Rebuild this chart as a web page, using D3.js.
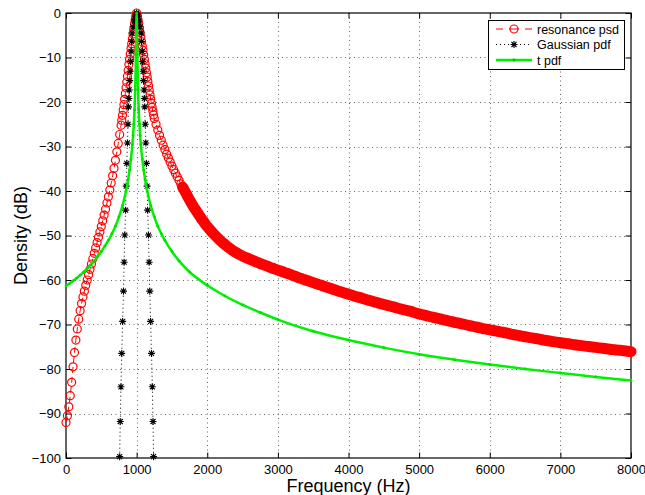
<!DOCTYPE html>
<html>
<head>
<meta charset="utf-8">
<script src="https://d3js.org/d3.v7.min.js"></script>
<style>
  body { margin: 0; background: #fff; }
  text { font-family: "Liberation Sans", Arial, Helvetica, sans-serif; }
</style>
</head>
<body>
<svg id="chart" width="645" height="495"></svg>
<script>
// ---- data ----
var xTicks = [0, 1000, 2000, 3000, 4000, 5000, 6000, 7000, 8000];
var yTicks = [-100, -90, -80, -70, -60, -50, -40, -30, -20, -10, 0];

// resonance psd (dB), sampled on a frequency grid, one array per grid step
var redLowDb = [-92, -90.5, -88.5, -86, -83, -79.5, -76.3, -73.5, -71, -68.8,
  -66.9, -65.3, -63.8, -62.5, -61.2, -60, -58.8, -57.6, -56.4, -55.2,
  -54, -52.8, -51.6, -50.4, -49.2, -48, -46.7, -45.4, -44.1, -42.7,
  -41.3, -39.8, -38.2, -36.6, -34.9, -33.1, -31.2, -29.3, -27.3, -25.2];           // 0..780 Hz, 20 Hz
var redPeakDb = [-24.1, -23, -21.8, -20.6, -19.4, -18.1, -16.8, -15.5, -14.2, -12.9,
  -11.6, -10.4, -9.2, -8, -6.9, -5.8, -4.7, -3.6, -2.5, -1.5, -0.6, 0,
  -0.6, -1.5, -2.4, -3.4, -4.4, -5.4, -6.4, -7.4, -8.4, -9.4, -10.4, -11.4,
  -12.4, -13.4, -14.4, -15.4, -16.4, -17.4, -18.4, -19.4, -20.3, -21.2,
  -22.1, -22.9, -23.7];                                                              // 790..1250 Hz, 10 Hz
var redMidDb = [-25, -26.3, -27.5, -28.6, -29.7, -30.7, -31.7, -32.6, -33.5, -34.4,
  -35.2, -36, -36.8, -37.6, -38.4, -39.1, -39.8, -40.5, -41.3, -42,
  -42.7, -43.4, -44, -44.6, -45.2, -45.8, -46.4, -46.9, -47.5, -48,
  -48.47, -48.92, -49.36, -49.78, -50.19, -50.59, -50.97, -51.34, -51.69, -52.03,
  -52.35, -52.66, -52.96, -53.24, -53.51, -53.76, -54, -54.22, -54.43, -54.63];     // 1275..2500 Hz, 25 Hz
var redTailDb = [-54.98, -55.32, -55.65, -55.98, -56.3, -56.6, -56.9, -57.2, -57.5, -57.78,
  -58.05, -58.33, -58.6, -58.9, -59.2, -59.5, -59.8, -60.05, -60.3, -60.6,
  -60.85, -61.1, -61.4, -61.65, -61.9, -62.2, -62.45, -62.7, -62.95, -63.2,
  -63.45, -63.7, -63.9, -64.15, -64.4, -64.6, -64.85, -65.05, -65.3, -65.5,
  -65.7, -65.9, -66.1, -66.35, -66.55, -66.75, -66.95, -67.15, -67.4, -67.6,
  -67.8, -68, -68.2, -68.4, -68.55, -68.75, -68.95, -69.15, -69.3, -69.5,
  -69.65, -69.85, -70, -70.2, -70.35, -70.55, -70.7, -70.9, -71.05, -71.2,
  -71.35, -71.5, -71.65, -71.8, -71.95, -72.15, -72.3, -72.45, -72.6, -72.75,
  -72.9, -73, -73.15, -73.3, -73.45, -73.6, -73.7, -73.85, -73.95, -74.1,
  -74.2, -74.3, -74.4, -74.55, -74.65, -74.75, -74.85, -74.95, -75.05, -75.15,
  -75.25, -75.35, -75.45, -75.55, -75.65, -75.75, -75.8, -75.9, -76, -76.1];       // 2550..8000 Hz, 50 Hz

// Gaussian pdf (dB): distance from 1000 Hz and level, same on both sides
var gaussCenter = 1000;
var gaussOffsetHz = [0, 20, 35, 50, 65, 70, 78, 85, 92, 98, 104, 109, 115, 122, 130,
  139, 148, 156, 168, 177, 186, 198, 211, 222, 232, 240];
var gaussDb = [0, -0.7, -1.8, -3.1, -4.5, -6.4, -8.6, -10.9, -13.1, -15.2, -17.3, -19.2,
  -21.1, -25, -29.2, -33.8, -38.9, -44.3, -49.9, -56, -62.5, -69.3, -76.5, -84, -91.8, -99.7];

// t pdf (dB)
var tHz = [0, 50, 100, 150, 200, 250, 300, 350, 400, 450, 500, 550, 600, 650, 700, 750,
  800, 850, 880, 900, 920, 940, 950, 960, 970, 980, 990, 1000, 1010, 1020, 1030, 1040,
  1050, 1060, 1080, 1100, 1120, 1150, 1200, 1250, 1300, 1350, 1400, 1500, 1600, 1750,
  2000, 2250, 2500, 2750, 3000, 3500, 4000, 4500, 5000, 5500, 6000, 6500, 7000, 7500, 8000];
var tDb = [-61.3, -60.8, -60.2, -59.6, -58.9, -58.2, -57.4, -56.6, -55.7, -54.7, -53.6,
  -52.4, -51.1, -49.6, -47.9, -45.8, -43.3, -40, -37.4, -35.3, -32.8, -29.6, -27.5, -25,
  -21.8, -17.2, -9.3, 0, -9.3, -17.2, -21.8, -25, -27.5, -29.6, -32.8, -35.3, -37.4, -40,
  -43.3, -45.8, -47.9, -49.6, -51.1, -53.6, -55.7, -58.2, -61.2, -63.6, -65.6, -67.3,
  -68.9, -71.5, -73.5, -75.2, -76.7, -77.9, -79, -80, -80.9, -81.8, -82.6];

var legendLabels = ["resonance psd", "Gaussian pdf", "t pdf"];

// ---- build point lists ----
var redSegments = [[0, 20, redLowDb], [790, 10, redPeakDb], [1275, 25, redMidDb], [2550, 50, redTailDb]];
var red = redSegments.flatMap(function (s) {
  return s[2].map(function (v, i) { return { f: s[0] + i * s[1], db: v }; });
});
var gauss = gaussOffsetHz.map(function (o, i) { return { f: gaussCenter - o, db: gaussDb[i] }; }).reverse()
  .concat(gaussOffsetHz.slice(1).map(function (o, i) { return { f: gaussCenter + o, db: gaussDb[i + 1] }; }));
var tpdf = tHz.map(function (f, i) { return { f: f, db: tDb[i] }; });

// ---- layout ----
var width = 645, height = 495;
var margin = { top: 13, right: 14, bottom: 37, left: 66 };
var svg = d3.select("#chart");
svg.append("rect").attr("width", width).attr("height", height).attr("fill", "#fff");

var x = d3.scaleLinear().domain([0, 8000]).range([margin.left, width - margin.right]);
var y = d3.scaleLinear().domain([-100, 0]).range([height - margin.bottom, margin.top]);
var x0 = x.range()[0], x1 = x.range()[1], y0 = y.range()[0], y1 = y.range()[1];

// grid
var grid = svg.append("g").attr("stroke", "#666").attr("stroke-width", 1).attr("stroke-dasharray", "1,3.5");
grid.selectAll(".gx").data(xTicks.slice(1, -1)).join("line")
  .attr("x1", function (d) { return Math.round(x(d)) + 0.5; })
  .attr("x2", function (d) { return Math.round(x(d)) + 0.5; })
  .attr("y1", y1).attr("y2", y0);
grid.selectAll(".gy").data(yTicks.slice(1, -1)).join("line")
  .attr("y1", function (d) { return Math.round(y(d)) + 0.5; })
  .attr("y2", function (d) { return Math.round(y(d)) + 0.5; })
  .attr("x1", x0).attr("x2", x1);

// axes, ticks inside like the original
var fmt = function (d) { return d < 0 ? "\u2212" + Math.abs(d) : String(d); };
var axisStyle = function (g) {
  g.select(".domain").remove();
  g.selectAll("line").attr("stroke", "#000");
  g.selectAll("text").attr("font-size", 13).attr("fill", "#000")
    .style("font-family", "'Liberation Sans', Arial, sans-serif");
};
svg.append("g").attr("transform", "translate(0," + y0 + ")")
  .call(d3.axisBottom(x).tickValues(xTicks).tickSizeInner(-5.5).tickSizeOuter(0).tickPadding(7).tickFormat(fmt))
  .call(axisStyle);
svg.append("g").attr("transform", "translate(0," + y1 + ")")
  .call(d3.axisTop(x).tickValues(xTicks).tickSizeInner(-5.5).tickSizeOuter(0).tickFormat(""))
  .call(axisStyle);
svg.append("g").attr("transform", "translate(" + x0 + ",0)")
  .call(d3.axisLeft(y).tickValues(yTicks).tickSizeInner(-5.5).tickSizeOuter(0).tickPadding(5).tickFormat(fmt))
  .call(axisStyle);
svg.append("g").attr("transform", "translate(" + x1 + ",0)")
  .call(d3.axisRight(y).tickValues(yTicks).tickSizeInner(-5.5).tickSizeOuter(0).tickFormat(""))
  .call(axisStyle);

svg.append("rect").attr("x", x0).attr("y", y1).attr("width", x1 - x0).attr("height", y0 - y1)
  .attr("fill", "none").attr("stroke", "#000").attr("stroke-width", 1.2);

// axis titles
svg.append("text").attr("x", (x0 + x1) / 2).attr("y", 492).attr("text-anchor", "middle")
  .attr("font-size", 18).text("Frequency (Hz)");
svg.append("text").attr("transform", "translate(27," + (y0 + y1) / 2 + ") rotate(-90)")
  .attr("text-anchor", "middle").attr("font-size", 18).text("Density (dB)");

var line = d3.line().x(function (d) { return x(d.f); }).y(function (d) { return y(d.db); });
var smoothLine = d3.line().curve(d3.curveMonotoneX)
  .x(function (d) { return x(d.f); }).y(function (d) { return y(d.db); });
var star = "M-3.5,0H3.5M0,-3.5V3.5M-2.5,-2.5L2.5,2.5M-2.5,2.5L2.5,-2.5";

// resonance psd: red dashed line with circles; where the original markers
// pile up into a solid band, the overlap is drawn as a wide stroke
svg.append("path").datum(red.filter(function (d) { return d.f >= 1650; }))
  .attr("d", smoothLine).attr("fill", "none").attr("stroke", "#f00")
  .attr("stroke-width", 11).attr("stroke-linecap", "round").attr("stroke-linejoin", "round");
svg.append("path").datum(red).attr("d", line).attr("fill", "none")
  .attr("stroke", "#f00").attr("stroke-width", 1).attr("stroke-dasharray", "6,4");
svg.append("g").selectAll("circle").data(red).join("circle")
  .attr("cx", function (d) { return x(d.f); }).attr("cy", function (d) { return y(d.db); })
  .attr("r", 4).attr("fill", "none").attr("stroke", "#f00").attr("stroke-width", 1.2);

// Gaussian pdf: black dotted line with asterisks
svg.append("path").datum(gauss).attr("d", line).attr("fill", "none")
  .attr("stroke", "#000").attr("stroke-width", 1).attr("stroke-dasharray", "1,3");
svg.append("g").selectAll("path").data(gauss).join("path")
  .attr("transform", function (d) { return "translate(" + x(d.f) + "," + y(d.db) + ")"; })
  .attr("d", star).attr("stroke", "#000").attr("stroke-width", 1.1).attr("fill", "none");

// t pdf: green line with point markers
svg.append("path").datum(tpdf).attr("d", smoothLine).attr("fill", "none")
  .attr("stroke", "#00f000").attr("stroke-width", 2.5).attr("stroke-linejoin", "round");
svg.append("g").selectAll("circle").data(tpdf).join("circle")
  .attr("cx", function (d) { return x(d.f); }).attr("cy", function (d) { return y(d.db); })
  .attr("r", 1.4).attr("fill", "#00e000");

// legend
var lg = svg.append("g");
lg.append("rect").attr("x", 488.5).attr("y", 20.5).attr("width", 136).attr("height", 49)
  .attr("fill", "#fff").attr("stroke", "#000").attr("stroke-width", 1);
var rowY = [29, 44.5, 60];
var lx0 = 496, lx1 = 532, lxm = 514;
lg.append("line").attr("x1", lx0).attr("x2", 503).attr("y1", rowY[0]).attr("y2", rowY[0]).attr("stroke", "#f00");
lg.append("line").attr("x1", 509).attr("x2", 519).attr("y1", rowY[0]).attr("y2", rowY[0]).attr("stroke", "#f00");
lg.append("line").attr("x1", 525).attr("x2", lx1).attr("y1", rowY[0]).attr("y2", rowY[0]).attr("stroke", "#f00");
lg.append("circle").attr("cx", lxm).attr("cy", rowY[0]).attr("r", 4).attr("fill", "none").attr("stroke", "#f00").attr("stroke-width", 1.2);
lg.append("line").attr("x1", lx0).attr("x2", lx1).attr("y1", rowY[1]).attr("y2", rowY[1])
  .attr("stroke", "#000").attr("stroke-dasharray", "1,3");
lg.append("path").attr("transform", "translate(" + lxm + "," + rowY[1] + ")").attr("d", star)
  .attr("stroke", "#000").attr("stroke-width", 1.1);
lg.append("line").attr("x1", lx0).attr("x2", lx1).attr("y1", rowY[2]).attr("y2", rowY[2])
  .attr("stroke", "#00f000").attr("stroke-width", 2.5);
lg.append("circle").attr("cx", lxm).attr("cy", rowY[2]).attr("r", 1.6).attr("fill", "#00c000");
lg.selectAll("text").data(legendLabels).join("text")
  .attr("x", 537).attr("y", function (d, i) { return rowY[i] + 4.5; })
  .attr("font-size", 12.5).text(function (d) { return d; });
</script>
</body>
</html>
